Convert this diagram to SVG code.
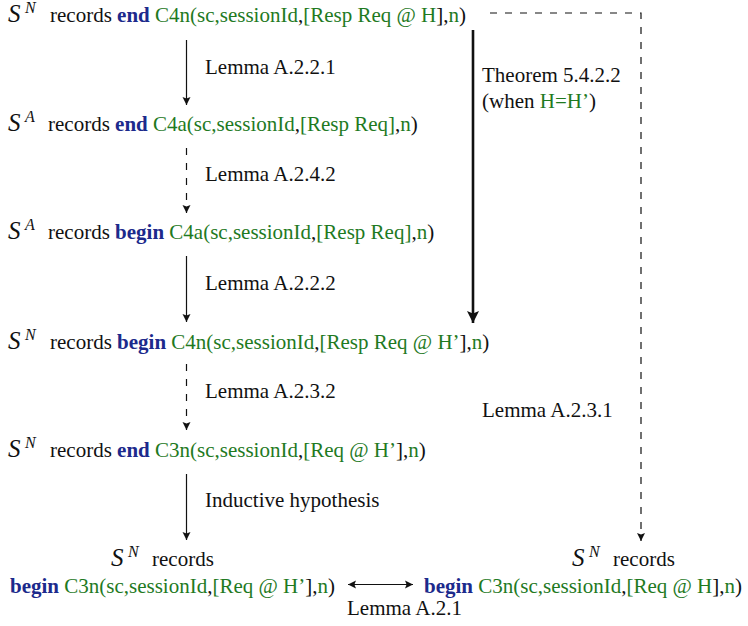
<svg xmlns="http://www.w3.org/2000/svg" width="748" height="626" viewBox="0 0 748 626">
<style>
text{font-family:"Liberation Serif","Times New Roman",serif;font-size:21px;fill:#111}
.cal{font-style:italic;font-size:25px}
.sup{font-style:italic;font-size:16px}
.kw{font-weight:bold;fill:#1c2a8c}
.g{fill:#1f7a1f}
.ln{stroke:#111;stroke-width:1.2;fill:none}
.dash{stroke-dasharray:7 8}
.thick{stroke:#111;stroke-width:2.6;fill:none}
</style>
<defs>
<marker id="ah" viewBox="0 0 10 10" refX="10" refY="5" markerWidth="8" markerHeight="9" markerUnits="userSpaceOnUse" orient="auto-start-reverse">
<path d="M0,0 L10,5 L0,10 L2,5 z" fill="#111"/>
</marker>
<marker id="ahb" viewBox="0 0 10 10" refX="10" refY="5" markerWidth="15" markerHeight="12" markerUnits="userSpaceOnUse" orient="auto">
<path d="M0,0 L10,5 L0,10 L2,5 z" fill="#111"/>
</marker>
</defs>

<g id="connectors">
<line class="ln" x1="186.5" y1="40" x2="186.5" y2="105" marker-end="url(#ah)"/>
<line class="ln dash" x1="186.5" y1="148" x2="186.5" y2="213" marker-end="url(#ah)"/>
<line class="ln" x1="186.5" y1="256" x2="186.5" y2="322" marker-end="url(#ah)"/>
<line class="ln dash" x1="186.5" y1="364" x2="186.5" y2="430" marker-end="url(#ah)"/>
<line class="ln" x1="186.5" y1="474" x2="186.5" y2="540" marker-end="url(#ah)"/>
<line class="thick" x1="473" y1="30" x2="473" y2="323" marker-end="url(#ahb)"/>
<polyline class="ln dash" points="490,13 641,13 641,541" marker-end="url(#ah)"/>
<line class="ln" x1="348" y1="584.5" x2="413" y2="584.5" marker-start="url(#ah)" marker-end="url(#ah)"/>
<text x="205" y="74">Lemma A.2.2.1</text>
<text x="205" y="181">Lemma A.2.4.2</text>
<text x="205" y="290">Lemma A.2.2.2</text>
<text x="205" y="398">Lemma A.2.3.2</text>
<text x="205" y="507">Inductive hypothesis</text>
<text x="482" y="82">Theorem 5.4.2.2</text>
<text x="482" y="108">(when <tspan class="g">H=H’</tspan>)</text>
<text x="482" y="417">Lemma A.2.3.1</text>
<text x="347" y="615">Lemma A.2.1</text>
</g>

<g id="n1">
<text y="22"><tspan class="cal" x="8">S</tspan><tspan class="sup" x="25" dy="-9">N</tspan><tspan x="50" dy="9">records </tspan><tspan class="kw">end</tspan> <tspan class="g">C4n(sc,sessionId</tspan>,<tspan class="g">[Resp Req @ H</tspan>],<tspan class="g">n</tspan>)</text>
</g>
<g id="n2">
<text y="131"><tspan class="cal" x="8">S</tspan><tspan class="sup" x="25" dy="-9">A</tspan><tspan x="48" dy="9">records </tspan><tspan class="kw">end</tspan> <tspan class="g">C4a(sc,sessionId</tspan>,<tspan class="g">[Resp Req]</tspan>,<tspan class="g">n</tspan>)</text>
</g>
<g id="n3">
<text y="239"><tspan class="cal" x="8">S</tspan><tspan class="sup" x="25" dy="-9">A</tspan><tspan x="48" dy="9">records </tspan><tspan class="kw">begin</tspan> <tspan class="g">C4a(sc,sessionId</tspan>,<tspan class="g">[Resp Req]</tspan>,<tspan class="g">n</tspan>)</text>
</g>
<g id="n4">
<text y="349"><tspan class="cal" x="8">S</tspan><tspan class="sup" x="25" dy="-9">N</tspan><tspan x="50" dy="9">records </tspan><tspan class="kw">begin</tspan> <tspan class="g">C4n(sc,sessionId</tspan>,<tspan class="g">[Resp Req @ H’</tspan>],<tspan class="g">n</tspan>)</text>
</g>
<g id="n5">
<text y="457"><tspan class="cal" x="8">S</tspan><tspan class="sup" x="25" dy="-9">N</tspan><tspan x="50" dy="9">records </tspan><tspan class="kw">end</tspan> <tspan class="g">C3n(sc,sessionId</tspan>,<tspan class="g">[Req @ H’</tspan>],<tspan class="g">n</tspan>)</text>
</g>
<g id="n6">
<text y="566"><tspan class="cal" x="111">S</tspan><tspan class="sup" x="128" dy="-9">N</tspan><tspan x="152" dy="9">records</tspan></text>
<text x="10" y="593"><tspan class="kw">begin</tspan> <tspan class="g">C3n(sc,sessionId</tspan>,<tspan class="g">[Req @ H’</tspan>],<tspan class="g">n</tspan>)</text>
</g>
<g id="n7">
<text y="566"><tspan class="cal" x="572">S</tspan><tspan class="sup" x="589" dy="-9">N</tspan><tspan x="613" dy="9">records</tspan></text>
<text x="424" y="593"><tspan class="kw">begin</tspan> <tspan class="g">C3n(sc,sessionId</tspan>,<tspan class="g">[Req @ H</tspan>],<tspan class="g">n</tspan>)</text>
</g>
</svg>
